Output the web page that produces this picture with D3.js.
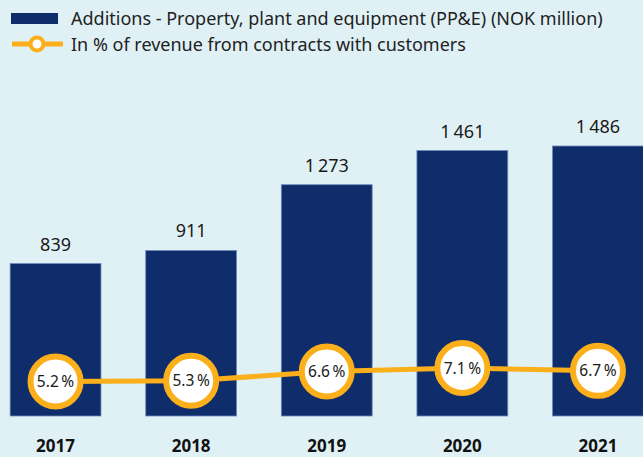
<!DOCTYPE html>
<html>
<head>
<meta charset="utf-8">
<script src="https://cdn.jsdelivr.net/npm/d3@7"></script>
<style>
  body { margin: 0; background: #e0f1f6; }
  svg { display: block; font-family: "Noto Sans", sans-serif; }
</style>
</head>
<body>
<div id="chart"></div>
<script>
const years = ["2017", "2018", "2019", "2020", "2021"];
const additions = [839, 911, 1273, 1461, 1486];
const pctRevenue = [5.2, 5.3, 6.6, 7.1, 6.7];
const legendLabels = [
    "Additions - Property, plant and equipment (PP&E) (NOK million)",
    "In % of revenue from contracts with customers"
];

const width = 643;
const height = 457;
const navy = "#0f2d6b";
const orange = "#fbb01b";

const svg = d3.select("#chart")
    .append("svg")
    .attr("width", width)
    .attr("height", height);

svg.append("rect")
    .attr("width", width)
    .attr("height", height)
    .attr("fill", "#e0f1f6");

const x = d3.scaleBand()
    .domain(years)
    .range([-17, 670.5])
    .paddingInner(0.33)
    .paddingOuter(0.2);

const y = d3.scaleLinear()
    .domain([0, 1486])
    .range([416, 146]);

// percent line sits low, over the bar bottoms
const yPct = d3.scaleLinear()
    .domain([5.2, 7.1])
    .range([381.5, 368]);

const fmt = d3.formatLocale({ decimal: ".", thousands: "\u2009", grouping: [3], currency: ["", ""] }).format(",d");

// bars
svg.selectAll("rect.bar")
    .data(additions)
    .enter()
    .append("rect")
    .attr("class", "bar")
    .attr("x", (d, i) => x(years[i]))
    .attr("y", d => y(d))
    .attr("width", x.bandwidth())
    .attr("height", d => y(0) - y(d))
    .attr("fill", navy)
    .attr("stroke", "#6d8bbd")
    .attr("stroke-width", 0.8);

svg.selectAll("text.value")
    .data(additions)
    .enter()
    .append("text")
    .attr("class", "value")
    .attr("x", (d, i) => x(years[i]) + x.bandwidth() / 2)
    .attr("y", d => y(d) - 13)
    .attr("text-anchor", "middle")
    .attr("font-size", 18)
    .attr("fill", "#1a1a1a")
    .text(d => fmt(d));

// line
const line = d3.line()
    .x((d, i) => x(years[i]) + x.bandwidth() / 2)
    .y(d => yPct(d));

svg.append("path")
    .datum(pctRevenue)
    .attr("d", line)
    .attr("fill", "none")
    .attr("stroke", orange)
    .attr("stroke-width", 5);

svg.selectAll("circle.pt")
    .data(pctRevenue)
    .enter()
    .append("circle")
    .attr("class", "pt")
    .attr("cx", (d, i) => x(years[i]) + x.bandwidth() / 2)
    .attr("cy", d => yPct(d))
    .attr("r", 25)
    .attr("fill", "white")
    .attr("stroke", orange)
    .attr("stroke-width", 6);

svg.selectAll("text.pct")
    .data(pctRevenue)
    .enter()
    .append("text")
    .attr("class", "pct")
    .attr("x", (d, i) => x(years[i]) + x.bandwidth() / 2)
    .attr("y", d => yPct(d) + 5.5)
    .attr("text-anchor", "middle")
    .attr("font-size", 15.5)
    .attr("fill", "#1a1a1a")
    .text(d => d.toFixed(1) + "\u2009%");

// year labels
svg.selectAll("text.year")
    .data(years)
    .enter()
    .append("text")
    .attr("class", "year")
    .attr("x", d => x(d) + x.bandwidth() / 2)
    .attr("y", 452)
    .attr("text-anchor", "middle")
    .attr("font-size", 17)
    .attr("font-weight", "bold")
    .attr("fill", "#111")
    .text(d => d);

// legend
const legend = svg.append("g");
legend.append("rect")
    .attr("x", 11).attr("y", 13)
    .attr("width", 47).attr("height", 11)
    .attr("fill", navy);
legend.append("line")
    .attr("x1", 12).attr("x2", 63)
    .attr("y1", 44).attr("y2", 44)
    .attr("stroke", orange)
    .attr("stroke-width", 5);
legend.append("circle")
    .attr("cx", 37).attr("cy", 44).attr("r", 6.5)
    .attr("fill", "white")
    .attr("stroke", orange)
    .attr("stroke-width", 4);
legend.selectAll("text")
    .data(legendLabels)
    .enter()
    .append("text")
    .attr("x", 71)
    .attr("y", (d, i) => 25 + i * 26)
    .attr("font-size", 18)
    .attr("fill", "#222")
    .text(d => d);
</script>
</body>
</html>
